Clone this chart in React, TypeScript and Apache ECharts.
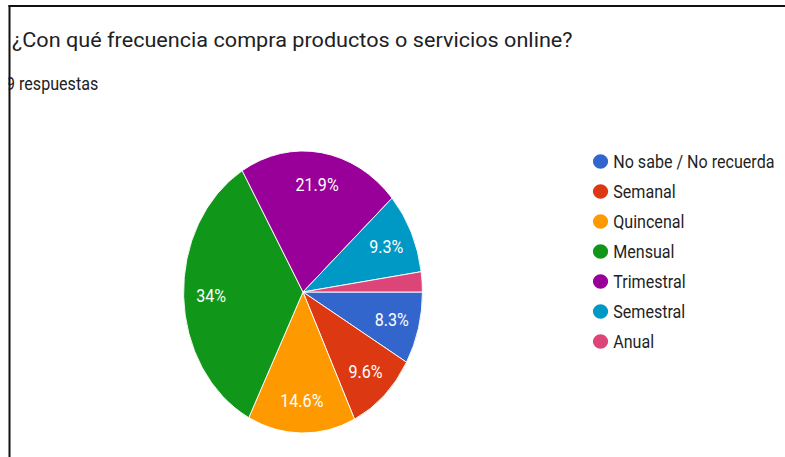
import React, { useEffect, useRef } from "react";
import * as echarts from "echarts";

const categories = [
  "No sabe / No recuerda",
  "Semanal",
  "Quincenal",
  "Mensual",
  "Trimestral",
  "Semestral",
  "Anual",
];
const percentages = [8.3, 9.6, 14.6, 34, 21.9, 9.3, 2.3];
const colors = ["#3366cc", "#dc3912", "#ff9900", "#109618", "#990099", "#0099c6", "#dd4477"];
const hiddenLabels = ["Anual"];
const titleText = "¿Con qué frecuencia compra productos o servicios online?";
const subtitleText = "9 respuestas";

const SX = 0.847;
const W = Math.round(785 / SX);
const H = 457;

export default function App() {
  const ref = useRef<HTMLDivElement>(null);
  useEffect(() => {
    const chart = echarts.init(ref.current!, null, { renderer: "svg" });
    const pieData = categories.map((name, i) => ({
      name,
      value: percentages[i],
      itemStyle: { color: colors[i] },
    }));
    const labelData = categories.map((name, i) => ({
      name,
      value: percentages[i],
      label: { show: !hiddenLabels.includes(name) },
    }));
    const center = [303 / SX, 292];
    chart.setOption({
      animation: false,
      textStyle: { fontFamily: "Roboto" },
      legend: {
        data: categories,
        orient: "vertical",
        left: 693,
        top: 147,
        itemWidth: 20,
        itemHeight: 16.5,
        itemGap: 11,
        icon: "path://M0,8A8,8 0 1,1 16,8A8,8 0 1,1 0,8Z",
        symbolKeepAspect: false,
        selectedMode: false,
        textStyle: { fontFamily: "Roboto", fontSize: 19, color: "#1f1f1f" },
      },
      series: [
        {
          type: "pie",
          center,
          radius: 141,
          startAngle: 0,
          clockwise: true,
          silent: true,
          data: pieData,
          label: { show: false },
          labelLine: { show: false },
          itemStyle: { borderColor: "#ffffff", borderWidth: 1 },
        },
        {
          type: "pie",
          center,
          radius: [70, 141],
          startAngle: 0,
          clockwise: true,
          silent: true,
          z: 3,
          data: labelData,
          itemStyle: { color: "rgba(0,0,0,0)" },
          labelLine: { show: false },
          label: {
            position: "inside",
            color: "#ffffff",
            fontSize: 19,
            fontFamily: "Roboto",
            formatter: (p: any) => `${Number(p.percent.toFixed(1))}%`,
          },
        },
      ],
      graphic: [
        {
          type: "text",
          x: 12 / SX,
          y: 40,
          scaleX: 1.082 / SX,
          z: 5,
          style: {
            text: titleText,
            fontSize: 20,
            fontFamily: "Roboto",
            fill: "#202124",
            verticalAlign: "middle",
          },
        },
        {
          type: "text",
          x: 6 / SX,
          y: 84,
          z: 5,
          style: {
            text: subtitleText,
            fontSize: 19,
            fontFamily: "Roboto",
            fill: "#202124",
            verticalAlign: "middle",
          },
        },
        {
          type: "rect",
          z: 50,
          shape: { x: 0, y: 0, width: 8.5 / SX, height: H },
          style: { fill: "#ffffff" },
        },
        {
          type: "rect",
          z: 60,
          shape: { x: 8.5 / SX, y: 5, width: 2 / SX, height: H },
          style: { fill: "#111111" },
        },
        {
          type: "rect",
          z: 60,
          shape: { x: 8.5 / SX, y: 5, width: W, height: 2 },
          style: { fill: "#111111" },
        },
      ],
    });
    return () => chart.dispose();
  }, []);
  return (
    <div
      ref={ref}
      style={{
        position: "fixed",
        left: 0,
        top: 0,
        width: W,
        height: H,
        transform: `scaleX(${SX})`,
        transformOrigin: "0 0",
        background: "#ffffff",
      }}
    />
  );
}
